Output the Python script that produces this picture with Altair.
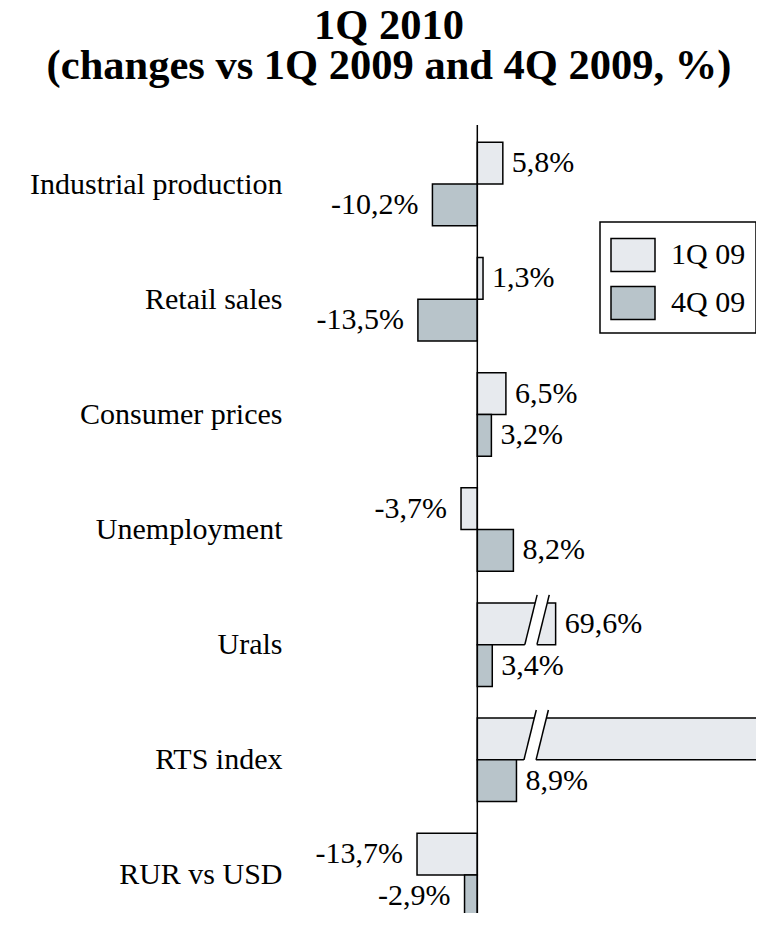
import altair as alt
import pandas as pd

# ---- data ----
categories = ["Industrial production", "Retail sales", "Consumer prices",
              "Unemployment", "Urals", "RTS index", "RUR vs USD"]
series = ["1Q 09", "4Q 09"]
vs_1q09 = [5.8, 1.3, 6.5, -3.7, 69.6, 135.0, -13.7]   # RTS label not visible (bar runs off chart)
vs_4q09 = [-10.2, -13.5, 3.2, 8.2, 3.4, 8.9, -2.9]
# broken bars: drawn length on the broken axis
broken_shown = {"Urals": 17.8}
break_cats = ["Urals", "RTS index"]
break_x = [10.8, 10.6]

# ---- geometry / style constants ----
BAR_H = 0.3626      # bar thickness in row units
EXT = 0.07          # break marks extend above bar
GAP = 2.75
SLANT = 2.8
X_DOM = [-42.57, 63.34]
Y_DOM = [-0.513, 6.33]
FONT = "Liberation Serif"
C1 = "#E7EAEE"
C2 = "#B8C4CA"

rows = []
for i, c in enumerate(categories):
    for s, vals in zip(series, [vs_1q09, vs_4q09]):
        v = vals[i]
        end = broken_shown.get(c, v) if s == "1Q 09" else v
        y0 = i - BAR_H if s == "1Q 09" else i
        y1 = i if s == "1Q 09" else i + BAR_H
        rows.append(dict(cat=c, series=s, value=v, start=0.0, end=end,
                         y0=y0, y1=y1, yc=(y0 + y1) / 2,
                         label=f"{v:.1f}".replace(".", ",") + "%"))
df = pd.DataFrame(rows)
lab = df[df["end"] < X_DOM[1]]

area_rows, rule_rows = [], []
for c, x0 in zip(break_cats, break_x):
    i = categories.index(c)
    top = i - BAR_H - EXT
    bot = i
    area_rows.append(dict(cat=c, y=top, xa=x0 + SLANT, xb=x0 + GAP + SLANT))
    area_rows.append(dict(cat=c, y=bot + 0.012, xa=x0 - 0.05, xb=x0 + GAP - 0.05))
    rule_rows.append(dict(cat=c, x=x0, x2=x0 + SLANT, y=bot, y2=top))
    rule_rows.append(dict(cat=c, x=x0 + GAP, x2=x0 + GAP + SLANT, y=bot, y2=top))
area_df = pd.DataFrame(area_rows)
rule_df = pd.DataFrame(rule_rows)

xs = alt.Scale(domain=X_DOM, nice=False, zero=False)
ys = alt.Scale(domain=Y_DOM, nice=False, zero=False, reverse=True)

label_expr = " : ".join(f"datum.value == {i} ? '{c}'" for i, c in enumerate(categories)) + " : ''"

bars = alt.Chart(df).mark_rect(stroke="black", strokeWidth=1.5, clip=True).encode(
    x=alt.X("start:Q", scale=xs, axis=None),
    x2="end:Q",
    y=alt.Y("y0:Q", scale=ys, axis=alt.Axis(
        values=list(range(len(categories))), labelExpr=label_expr, title=None,
        domain=False, ticks=False, grid=False, labelPadding=8,
        labelFont=FONT, labelFontSize=30, labelColor="black",
        labelBaseline="middle", labelBound=False, labelOverlap=False, labelLimit=400)),
    y2="y1:Q",
    color=alt.Color("series:N", scale=alt.Scale(domain=series, range=[C1, C2]),
                    legend=alt.Legend(
                        title=None, orient="none", legendX=310, legendY=97,
                        symbolType="M-1,-0.75H1V0.75H-1Z", symbolSize=1936,
                        symbolStrokeColor="black", symbolStrokeWidth=1.5,
                        labelFont=FONT, labelFontSize=30, labelColor="black",
                        labelOffset=15, rowPadding=5, padding=10,
                        strokeColor="black", fillColor="white")),
)

white_gap = alt.Chart(area_df).mark_area(orient="horizontal", color="white", opacity=1).encode(
    y=alt.Y("y:Q", scale=ys), x=alt.X("xa:Q", scale=xs), x2="xb:Q", detail="cat:N")

break_lines = alt.Chart(rule_df).mark_rule(color="black", strokeWidth=1.5).encode(
    x=alt.X("x:Q", scale=xs), x2="x2:Q", y=alt.Y("y:Q", scale=ys), y2="y2:Q")

zero_rule = alt.Chart(pd.DataFrame({"zero": [0.0]})).mark_rule(
    color="black", strokeWidth=1.5).encode(x=alt.X("zero:Q", scale=xs))

pos_labels = alt.Chart(lab).transform_filter("datum.end >= 0").mark_text(
    align="left", baseline="middle", dx=9, font=FONT, fontSize=30, color="black").encode(
    x=alt.X("end:Q", scale=xs), y=alt.Y("yc:Q", scale=ys), text="label:N")

neg_labels = alt.Chart(lab).transform_filter("datum.end < 0").mark_text(
    align="right", baseline="middle", dx=-14, font=FONT, fontSize=30, color="black").encode(
    x=alt.X("end:Q", scale=xs), y=alt.Y("yc:Q", scale=ys), text="label:N")

chart = alt.layer(bars, white_gap, break_lines, zero_rule, pos_labels, neg_labels).properties(
    width=466, height=788,
    autosize=alt.AutoSizeParams(type="none"),
    padding={"left": 282, "top": 117, "right": 0, "bottom": 0},
    title=alt.TitleParams(
        text=["1Q 2010", "(changes vs 1Q 2009 and 4Q 2009, %)"],
        font=FONT, fontSize=42.5, fontWeight="bold", color="black",
        lineHeight=40, anchor="middle", frame="group", baseline="bottom",
        dx=-134, dy=6, offset=0),
    background="white",
).configure_view(stroke=None).configure_legend(strokeWidth=1.5)

chart.save("out.html", embed_options={"renderer": "svg", "actions": False})
